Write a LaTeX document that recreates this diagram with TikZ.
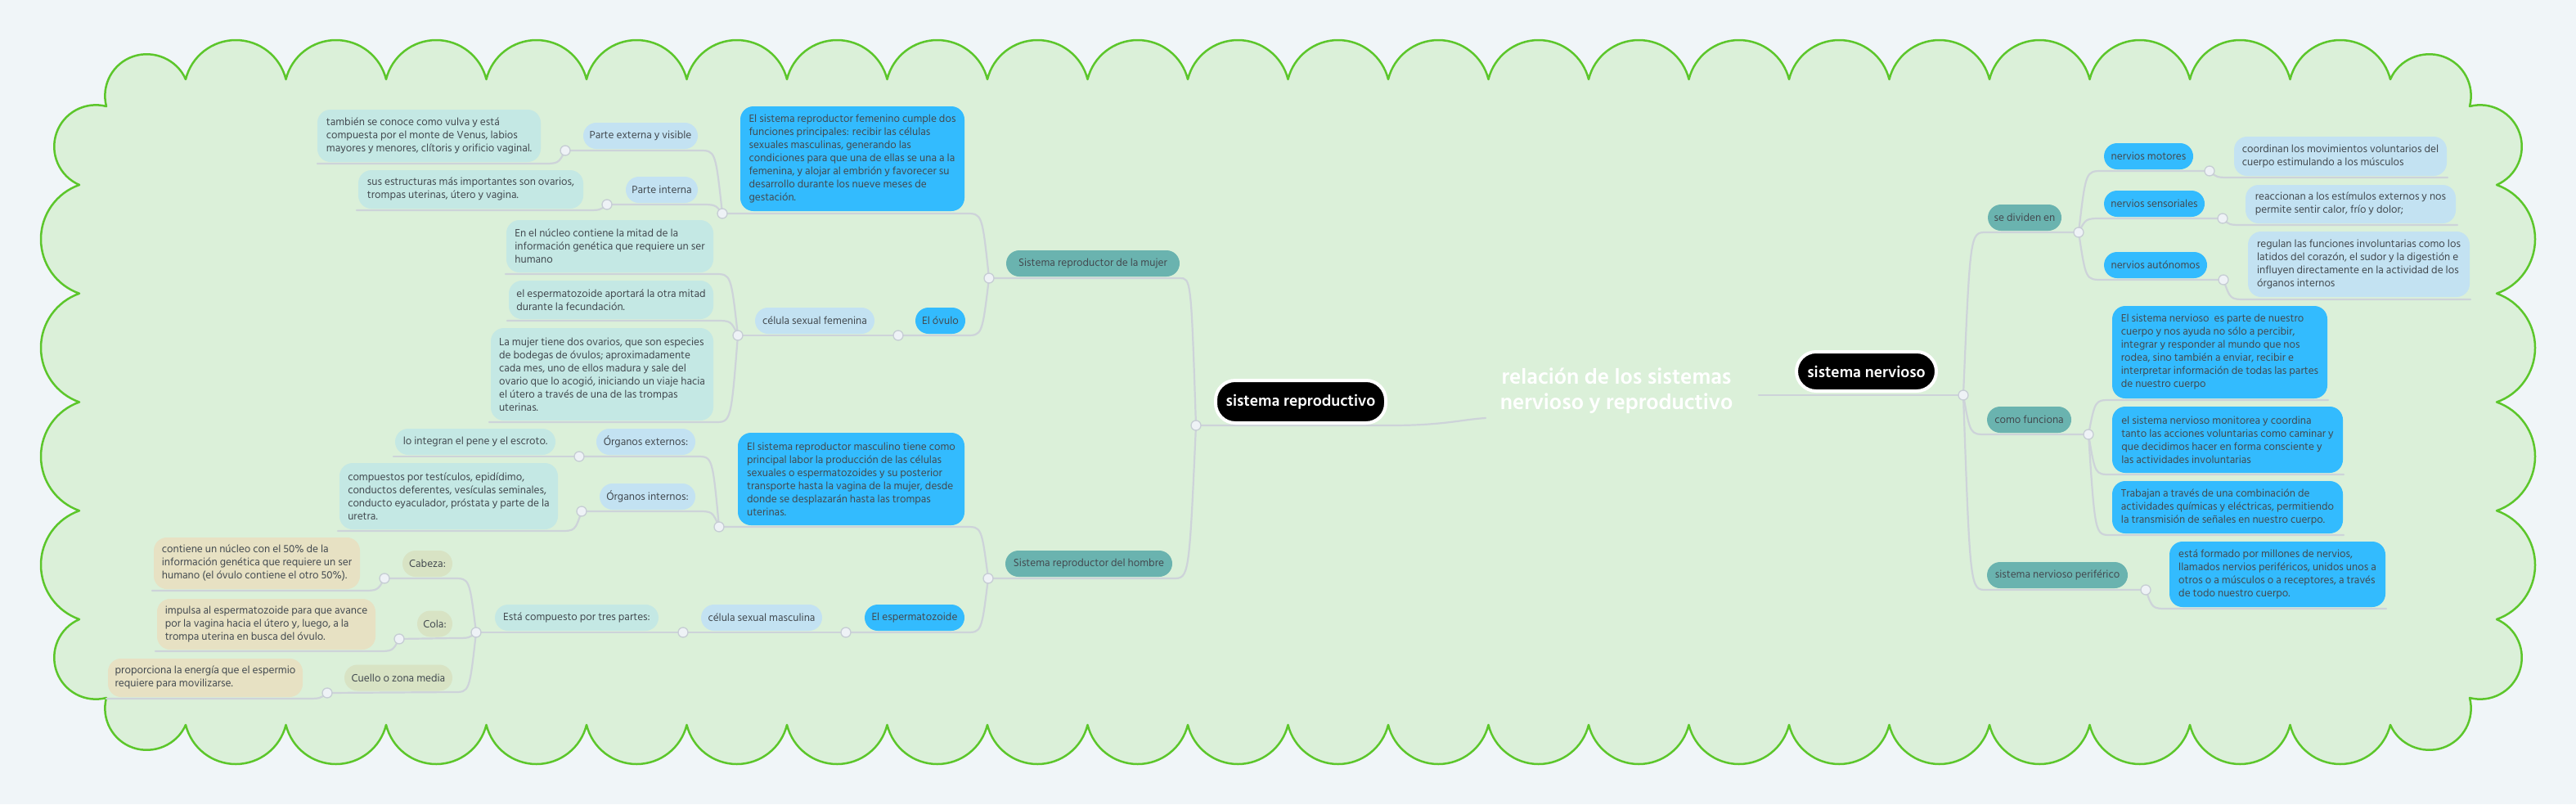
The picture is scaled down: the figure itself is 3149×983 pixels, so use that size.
\documentclass[tikz,border=0pt]{standalone}
\usepackage{fontspec}
\setmainfont{Hind Siliguri}
\usetikzlibrary{calc}
\definecolor{bgc}{HTML}{F0F5F8}
\definecolor{cloudfill}{HTML}{DBF0D9}
\definecolor{cloudline}{HTML}{5CC62B}
\definecolor{tealc}{HTML}{6AB3AF}
\definecolor{bluec}{HTML}{33BBFE}
\definecolor{lblue}{HTML}{C3E2F2}
\definecolor{lcyan}{HTML}{C4E8E4}
\definecolor{olivec}{HTML}{D8E3C4}
\definecolor{beigec}{HTML}{E7E1C3}
\definecolor{txt}{HTML}{434A50}
\definecolor{linec}{HTML}{CDD3D9}
\definecolor{jfill}{HTML}{EEF2F6}
\definecolor{jdraw}{HTML}{C6CDD4}
\newcommand{\bodyf}{\fontsize{13.3}{16}\selectfont}
\newcommand{\lk}[3]{\draw[conn] (#1) .. controls ($(#1|-#2)!0.3!(#2)$) and ($(#1|-#2)!0.3!(#2)$) .. (#2) -- (#3);}
\begin{document}
\begin{tikzpicture}[x=1pt,y=-1pt,
  conn/.style={draw=linec, line width=2.2pt, line cap=round},
  jc/.style={circle, minimum size=12pt, inner sep=0pt, fill=jfill, draw=jdraw, line width=1.3pt},
  pill/.style={rounded corners=16pt, inner xsep=7pt, inner ysep=0pt, minimum height=32pt, text=txt, font=\bodyf},
  tbox/.style={rounded corners=16pt, inner xsep=8pt, inner ysep=3pt, align=left, text=txt, font=\bodyf},
  blk/.style={rounded corners=24pt, fill=black, draw=white, line width=4pt, text=white, font=\bfseries\fontsize{19.5}{21}\selectfont, minimum height=52pt, inner xsep=8pt}]
\useasboundingbox (0,0) rectangle (3149,983);
\fill[bgc] (0,0) rectangle (3149,983);
% cloud
\path[fill=cloudfill, draw=cloudline, line width=2.5pt, line join=round]
 (130,130) .. controls (123.3,104.3) and (137.5,77.6) .. (162.7,69) .. controls (187.9,60.4) and (216.5,72.6) .. (227,97)
 \foreach \k in {0,...,21} { .. controls ({227+122.5*\k+6.9},68.8) and ({227+122.5*\k+32.2},49) .. ({227+122.5*\k+61.25},49) .. controls ({227+122.5*\k+90.3},49) and ({227+122.5*\k+115.6},68.8) .. ({227+122.5*(\k+1)},97) }
 .. controls (2932.5,72.6) and (2961.1,60.4) .. (2986.3,69) .. controls (3011.5,77.6) and (3025.7,104.3) .. (3019,130)
 .. controls (3044.7,123.3) and (3071.4,137.5) .. (3080,162.7) .. controls (3088.6,187.9) and (3076.4,215.5) .. (3052,226)
 \foreach \k in {0,...,3} { .. controls (3080.2,{226+132.75*\k+9.9}) and (3099,{226+132.75*\k+36.5}) .. (3099,{226+132.75*\k+66.4}) .. controls (3099,{226+132.75*\k+96.3}) and (3080.2,{226+132.75*\k+122.9}) .. (3052,{226+132.75*(\k+1)}) }
 .. controls (3076.4,767.5) and (3088.6,795.1) .. (3080,820.3) .. controls (3071.4,845.5) and (3044.7,859.7) .. (3019,853)
 .. controls (3025.7,878.7) and (3011.5,905.4) .. (2986.3,914) .. controls (2961.1,922.6) and (2932.5,910.4) .. (2922,886)
 \foreach \k in {0,...,21} { .. controls ({2922-122.5*\k-6.9},914.2) and ({2922-122.5*\k-32.2},934) .. ({2922-122.5*\k-61.25},934) .. controls ({2922-122.5*\k-90.3},934) and ({2922-122.5*\k-115.6},914.2) .. ({2922-122.5*(\k+1)},886) }
 .. controls (216.5,910.4) and (187.9,922.6) .. (162.7,914) .. controls (137.5,905.4) and (123.3,878.7) .. (130,853)
 .. controls (104.3,859.7) and (77.6,845.5) .. (69,820.3) .. controls (60.4,795.1) and (72.6,767.5) .. (97,757)
 \foreach \k in {0,...,3} { .. controls (68.8,{757-132.75*\k-9.9}) and (50,{757-132.75*\k-36.5}) .. (50,{757-132.75*\k-66.4}) .. controls (50,{757-132.75*\k-96.3}) and (68.8,{757-132.75*\k-122.9}) .. (97,{757-132.75*(\k+1)}) }
 .. controls (72.6,215.5) and (60.4,187.9) .. (69,162.7) .. controls (77.6,137.5) and (104.3,123.3) .. (130,130) -- cycle;
% junctions
\coordinate (J0) at (1462,520);
\coordinate (Jn) at (2400,483);
\coordinate (Jm) at (1209,340);
\coordinate (Jh) at (1208,707);
\coordinate (Jf) at (883,261);
\coordinate (Jpe) at (691,184);
\coordinate (Jpi) at (742,250);
\coordinate (Jov) at (1098,410);
\coordinate (Jcf) at (902,410);
\coordinate (Jbm) at (879,644);
\coordinate (Joe) at (708,558);
\coordinate (Joi) at (711,625);
\coordinate (Jesp) at (1034,773);
\coordinate (Jcsm) at (835,773);
\coordinate (Je) at (582,773);
\coordinate (Jcab) at (470,707);
\coordinate (Jcola) at (488,781);
\coordinate (Jcue) at (400,847);
\coordinate (Jsd) at (2541,284);
\coordinate (Jfun) at (2553,531);
\coordinate (Jper) at (2623,721);
\coordinate (Jmot) at (2701,209);
\coordinate (Jsen) at (2717,267);
\coordinate (Jaut) at (2718,342);
% underline ends
\coordinate (nMuj) at (1442,340);
\coordinate (nHom) at (1434,707);
\coordinate (nFem) at (1181,261);
\coordinate (nOvu) at (1181,410);
\coordinate (nExt) at (855,184);
\coordinate (nInt) at (855,250);
\coordinate (nTam) at (663,200); \coordinate (eTam) at (388,200);
\coordinate (nSus) at (715,257); \coordinate (eSus) at (436,257);
\coordinate (nNuc) at (874,335); \coordinate (eNuc) at (618,335);
\coordinate (nApo) at (874,392); \coordinate (eApo) at (620,392);
\coordinate (nLam) at (874,516); \coordinate (eLam) at (598,516);
\coordinate (nMas) at (1181,644);
\coordinate (nEsp) at (1181,773);
\coordinate (nOex) at (852,558);
\coordinate (nOin) at (852,625);
\coordinate (eInt) at (481,558);
\coordinate (nCom) at (684,649); \coordinate (eCom) at (413,649);
\coordinate (nCab) at (555,707);
\coordinate (nCol) at (555,780);
\coordinate (nCue) at (555,846);
\coordinate (nCon) at (442,722); \coordinate (eCon) at (186,722);
\coordinate (nImp) at (461,796); \coordinate (eImp) at (190,796);
\coordinate (nPro) at (372,854); \coordinate (ePro) at (130,854);
\coordinate (nSd) at (2428,284);
\coordinate (nFun) at (2428,531);
\coordinate (nPer) at (2428,721);
\coordinate (nMot) at (2570,209);
\coordinate (nSen) at (2570,267);
\coordinate (nAut) at (2570,342);
\coordinate (nCoo) at (2729,217); \coordinate (eCoo) at (2992,217);
\coordinate (nRea) at (2743,275); \coordinate (eRea) at (3004,275);
\coordinate (nReg) at (2746,366); \coordinate (eReg) at (3020,366);
\coordinate (nPar) at (2580,489); \coordinate (ePar) at (2846,489);
\coordinate (nMon) at (2580,580); \coordinate (eMon) at (2865,580);
\coordinate (nTra) at (2580,654); \coordinate (eTra) at (2865,654);
\coordinate (nFor) at (2650,744); \coordinate (eFor) at (2917,744);
\coordinate (tL) at (1816,511);
\coordinate (tLa) at (1700,520);
\coordinate (tR) at (2150,483);
% connectors
\draw[conn] (J0) -- (tLa) .. controls (1765,520) and (1785,513) .. (tL);
\draw[conn] (tR) -- (Jn);
\lk{J0}{nMuj}{Jm}
\lk{J0}{nHom}{Jh}
\lk{Jm}{nFem}{Jf}
\lk{Jm}{nOvu}{Jov}
\lk{Jf}{nExt}{Jpe}
\lk{Jf}{nInt}{Jpi}
\lk{Jpe}{nTam}{eTam}
\lk{Jpi}{nSus}{eSus}
\draw[conn] (Jov) -- (Jcf);
\lk{Jcf}{nNuc}{eNuc}
\lk{Jcf}{nApo}{eApo}
\lk{Jcf}{nLam}{eLam}
\lk{Jh}{nMas}{Jbm}
\lk{Jh}{nEsp}{Jesp}
\lk{Jbm}{nOex}{Joe}
\lk{Jbm}{nOin}{Joi}
\draw[conn] (Joe) -- (eInt);
\lk{Joi}{nCom}{eCom}
\draw[conn] (Jesp) -- (Jcsm) -- (Je);
\lk{Je}{nCab}{Jcab}
\lk{Je}{nCol}{Jcola}
\lk{Je}{nCue}{Jcue}
\lk{Jcab}{nCon}{eCon}
\lk{Jcola}{nImp}{eImp}
\lk{Jcue}{nPro}{ePro}
\lk{Jn}{nSd}{Jsd}
\lk{Jn}{nFun}{Jfun}
\lk{Jn}{nPer}{Jper}
\lk{Jsd}{nMot}{Jmot}
\lk{Jsd}{nSen}{Jsen}
\lk{Jsd}{nAut}{Jaut}
\lk{Jmot}{nCoo}{eCoo}
\lk{Jsen}{nRea}{eRea}
\lk{Jaut}{nReg}{eReg}
\lk{Jfun}{nPar}{ePar}
\lk{Jfun}{nMon}{eMon}
\lk{Jfun}{nTra}{eTra}
\lk{Jper}{nFor}{eFor}
% nodes left
\node[pill, fill=tealc, minimum width=212pt] (muj) at (1336,322) {Sistema reproductor de la mujer};
\node[pill, fill=tealc, minimum width=204pt] (hom) at (1331,689) {Sistema reproductor del hombre};
\node[tbox, fill=bluec, minimum width=274pt, minimum height=128pt] (fem) at (1042,194) {El sistema reproductor femenino cumple dos\\funciones principales: recibir las células\\sexuales masculinas, generando las\\condiciones para que una de ellas se una a la\\femenina, y alojar al embrión y favorecer su\\desarrollo durante los nueve meses de\\gestación.};
\node[pill, fill=bluec, minimum width=61pt] (ovu) at (1149.5,392) {El óvulo};
\node[pill, fill=lblue, minimum width=140pt] (ext) at (783,166) {Parte externa y visible};
\node[tbox, fill=lcyan, minimum width=273pt, minimum height=64pt] (tam) at (524.5,166) {también se conoce como vulva y está\\compuesta por el monte de Venus, labios\\mayores y menores, clítoris y orificio vaginal.};
\node[pill, fill=lblue, minimum width=88pt] (int) at (809,232) {Parte interna};
\node[tbox, fill=lcyan, minimum width=275pt, minimum height=47pt] (sus) at (575.5,231.5) {sus estructuras más importantes son ovarios,\\trompas uterinas, útero y vagina.};
\node[pill, fill=lblue, minimum width=146pt] (cfem) at (996,392) {célula sexual femenina};
\node[tbox, fill=lcyan, minimum width=253pt, minimum height=64pt] (nuc) at (745.5,301) {En el núcleo contiene la mitad de la\\información genética que requiere un ser\\humano};
\node[tbox, fill=lcyan, minimum width=250pt, minimum height=47pt] (apo) at (747,366.5) {el espermatozoide aportará la otra mitad\\durante la fecundación.};
\node[tbox, fill=lcyan, minimum width=272pt, minimum height=113pt] (lam) at (736,457.5) {La mujer tiene dos ovarios, que son especies\\de bodegas de óvulos; aproximadamente\\cada mes, uno de ellos madura y sale del\\ovario que lo acogió, iniciando un viaje hacia\\el útero a través de una de las trompas\\uterinas.};
\node[tbox, fill=bluec, minimum width=277pt, minimum height=113pt] (mas) at (1040.5,585.5) {El sistema reproductor masculino tiene como\\principal labor la producción de las células\\sexuales o espermatozoides y su posterior\\transporte hasta la vagina de la mujer, desde\\donde se desplazarán hasta las trompas\\uterinas.};
\node[pill, fill=bluec, minimum width=122pt] (esp) at (1118,755) {El espermatozoide};
\node[pill, fill=lblue, minimum width=148pt] (cmas) at (931,755) {célula sexual masculina};
\node[pill, fill=lblue, minimum width=121pt] (oex) at (789.5,540) {Órganos externos:};
\node[pill, fill=lcyan, minimum width=196pt] (oexd) at (581,540) {lo integran el pene y el escroto.};
\node[pill, fill=lblue, minimum width=117pt] (oin) at (791.5,607) {Órganos internos:};
\node[tbox, fill=lcyan, minimum width=267pt, minimum height=81pt] (com) at (548.5,606.5) {compuestos por testículos, epidídimo,\\conductos deferentes, vesículas seminales,\\conducto eyaculador, próstata y parte de la\\uretra.};
\node[pill, fill=lcyan, minimum width=200pt] (tres) at (705,755) {Está compuesto por tres partes:};
\node[pill, fill=olivec, minimum width=61pt] (cab) at (522.5,689) {Cabeza:};
\node[tbox, fill=beigec, minimum width=252pt, minimum height=63pt] (con) at (314,688.5) {contiene un núcleo con el 50\% de la\\información genética que requiere un ser\\humano (el óvulo contiene el otro 50\%).};
\node[pill, fill=olivec, minimum width=43pt] (col) at (531.5,762.5) {Cola:};
\node[tbox, fill=beigec, minimum width=267pt, minimum height=62pt] (imp) at (325.5,763) {impulsa al espermatozoide para que avance\\por la vagina hacia el útero y, luego, a la\\trompa uterina en busca del óvulo.};
\node[pill, fill=olivec, minimum width=132pt] (cue) at (487,828.5) {Cuello o zona media};
\node[tbox, fill=beigec, minimum width=238pt, minimum height=47pt] (pro) at (251,828.5) {proporciona la energía que el espermio\\requiere para movilizarse.};
% nodes right
\node[pill, fill=tealc, minimum width=90pt] (sd) at (2475,266) {se dividen en};
\node[pill, fill=tealc, minimum width=103pt] (fun) at (2480.5,513) {como funciona};
\node[pill, fill=tealc, minimum width=172pt] (per) at (2515,703) {sistema nervioso periférico};
\node[pill, fill=bluec, minimum width=109pt] (mot) at (2626.5,191) {nervios motores};
\node[pill, fill=bluec, minimum width=123pt] (sen) at (2633.5,249) {nervios sensoriales};
\node[pill, fill=bluec, minimum width=126pt] (aut) at (2635,324) {nervios autónomos};
\node[tbox, fill=lblue, minimum width=260pt, minimum height=48pt] (coo) at (2861,191) {coordinan los movimientos voluntarios del\\cuerpo estimulando a los músculos};
\node[tbox, fill=lblue, minimum width=257pt, minimum height=47pt] (rea) at (2873.5,249.5) {reaccionan a los estímulos externos y nos\\permite sentir calor, frío y dolor;};
\node[tbox, fill=lblue, minimum width=271pt, minimum height=80pt] (reg) at (2883.5,323) {regulan las funciones involuntarias como los\\latidos del corazón, el sudor y la digestión e\\influyen directamente en la actividad de los\\órganos internos};
\node[tbox, fill=bluec, minimum width=263pt, minimum height=113pt] (par) at (2713.5,430.5) {El sistema nervioso\ \ es parte de nuestro\\cuerpo y nos ayuda no sólo a percibir,\\integrar y responder al mundo que nos\\rodea, sino también a enviar, recibir e\\interpretar información de todas las partes\\de nuestro cuerpo};
\node[tbox, fill=bluec, minimum width=282pt, minimum height=81pt] (mon) at (2723,537.5) {el sistema nervioso monitorea y coordina\\tanto las acciones voluntarias como caminar y\\que decidimos hacer en forma consciente y\\las actividades involuntarias};
\node[tbox, fill=bluec, minimum width=282pt, minimum height=64pt] (tra) at (2723,620) {Trabajan a través de una combinación de\\actividades químicas y eléctricas, permitiendo\\la transmisión de señales en nuestro cuerpo.};
\node[tbox, fill=bluec, minimum width=264pt, minimum height=80pt] (for) at (2784,702) {está formado por millones de nervios,\\llamados nervios periféricos, unidos unos a\\otros o a músculos o a receptores, a través\\de todo nuestro cuerpo.};
% central
\node[blk, minimum width=208pt] (srep) at (1590,491) {sistema reproductivo};
\node[blk, minimum width=171pt, minimum height=48pt] (snerv) at (2281.5,454) {sistema nervioso};
\node[font=\bfseries\fontsize{27}{31}\selectfont, text=white, align=center] (title) at (1976,478) {relación de los sistemas\\nervioso y reproductivo};
% junction circles
\foreach \j in {J0,Jn,Jm,Jh,Jf,Jpe,Jpi,Jov,Jcf,Jbm,Joe,Joi,Jesp,Jcsm,Je,Jcab,Jcola,Jcue,Jsd,Jfun,Jper,Jmot,Jsen,Jaut}
  \node[jc] (\j c) at (\j) {};
\end{tikzpicture}
\end{document}
